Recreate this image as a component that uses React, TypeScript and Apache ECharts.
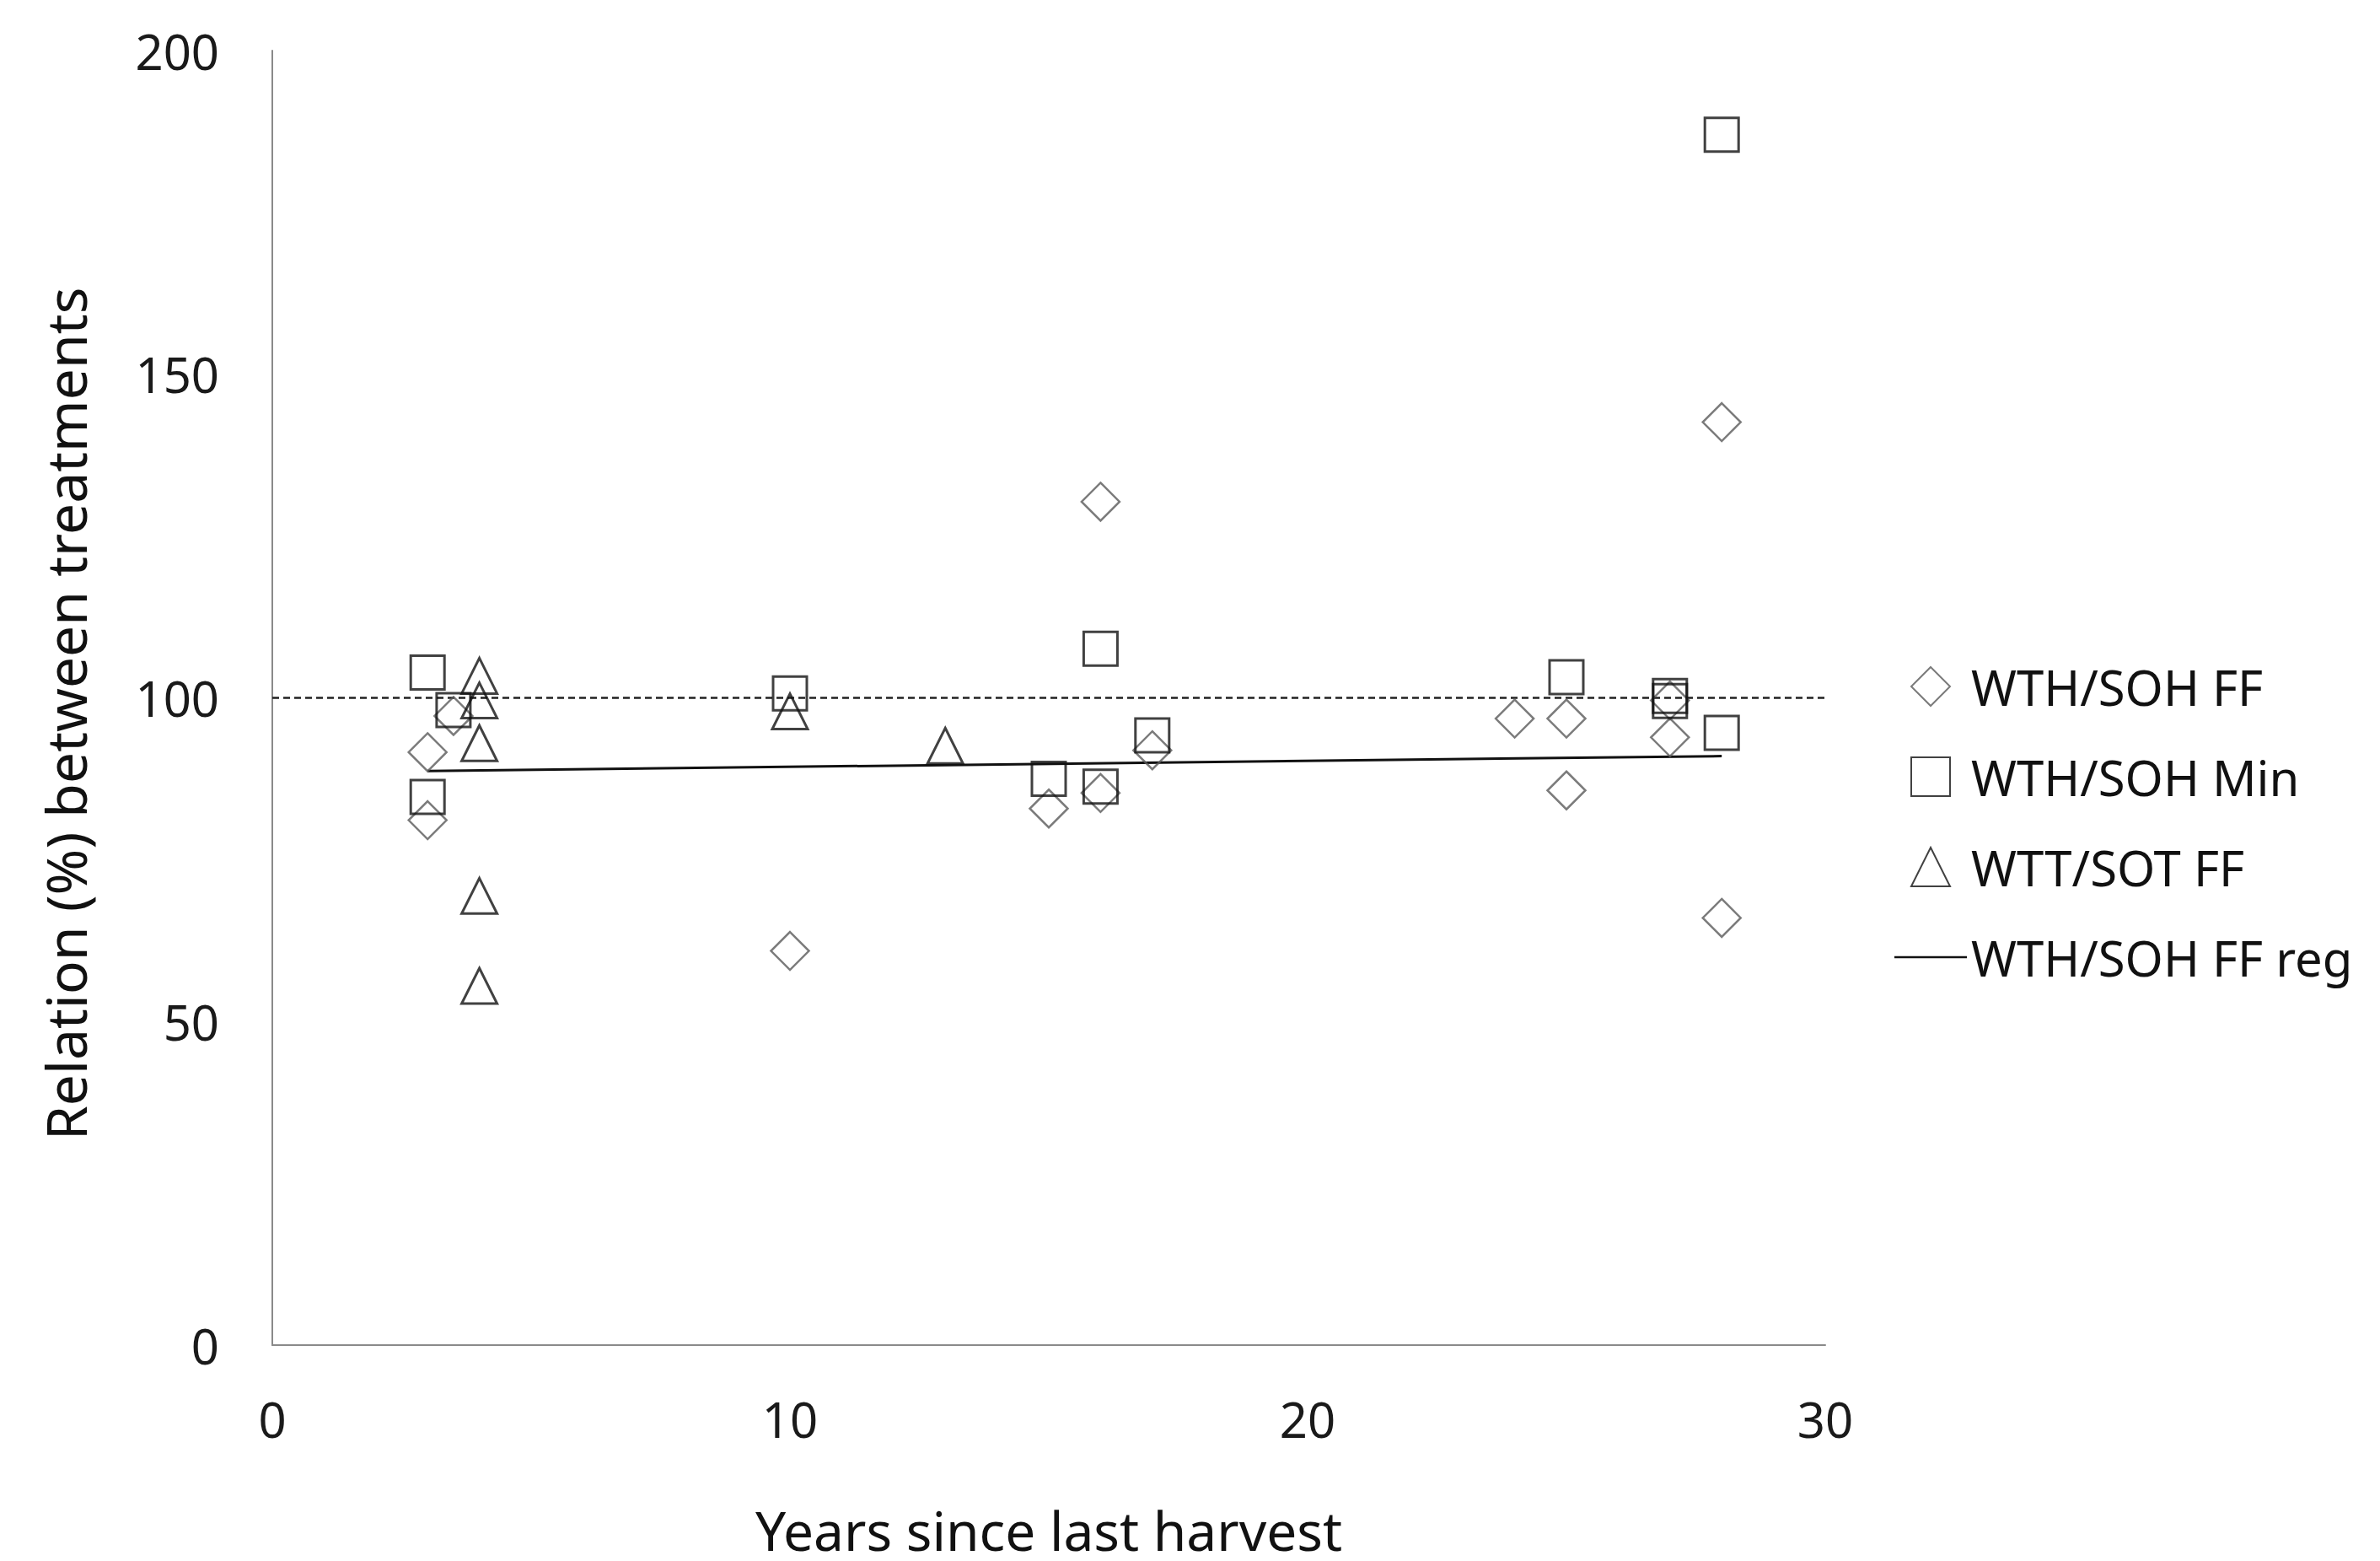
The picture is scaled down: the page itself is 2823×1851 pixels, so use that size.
import React, { useEffect, useRef } from "react";
import * as echarts from "echarts";

const seriesNames = ["WTH/SOH FF", "WTH/SOH Min", "WTT/SOT FF", "WTH/SOH FF reg"];

const wthSohFF: [number, number][] = [
  [3, 91.6], [3, 81.1], [3.5, 97.2], [10, 60.9], [15, 82.9], [16, 130.3], [16, 85.3],
  [17, 91.9], [24, 96.8], [25, 96.8], [25, 85.7], [27, 99.6], [27, 93.9], [28, 142.6], [28, 66],
];

const wthSohMin: [number, number][] = [
  [3, 103.9], [3, 84.7], [3.5, 98.1], [10, 100.7], [15, 87.5], [16, 107.6], [16, 86.3],
  [17, 94.2], [25, 103.2], [27, 100.3], [27, 99.5], [28, 187], [28, 94.6],
];

const wttSotFF: [number, number][] = [
  [4, 103.4], [4, 99.6], [4, 93.0], [4, 69.4], [4, 55.5], [10, 97.9], [13, 92.6],
];

const regression: [number, number][] = [[3, 88.7], [28, 91.0]];
const reference100: [number, number][] = [[0, 100], [30, 100]];

const xAxisRange = { min: 0, max: 30, interval: 10 };
const yAxisRange = { min: 0, max: 200, interval: 50 };

const xTitle = "Years since last harvest";
const yTitle = "Relation (%) between treatments";

const FONT = "Noto Sans";

const legendIcons = [
  "path://M16,0 L32,16 L16,32 L0,16 Z",
  "path://M0,0 L32,0 L32,32 L0,32 Z",
  "path://M16,0 L32,32 L0,32 Z",
  "path://M0,0 L86,0 L86,2.5 L0,2.5 Z",
];

export default function App() {
  const ref = useRef<HTMLDivElement>(null);
  useEffect(() => {
    if (!ref.current) return;
    const chart = echarts.init(ref.current, undefined, { renderer: "svg" });
    const axisLine = { show: true, lineStyle: { color: "#8a8a8a", width: 2 } };
    chart.setOption({
      animation: false,
      backgroundColor: "#ffffff",
      grid: { left: 323, right: 658, top: 60, bottom: 256, containLabel: false },
      xAxis: {
        type: "value",
        min: xAxisRange.min,
        max: xAxisRange.max,
        interval: xAxisRange.interval,
        axisLine,
        axisTick: { show: false },
        splitLine: { show: false },
        axisLabel: { fontFamily: FONT, fontSize: 58, color: "#1a1a1a", margin: 58 },
        name: xTitle,
        nameLocation: "middle",
        nameGap: 187,
        nameTextStyle: { fontFamily: FONT, fontSize: 64, color: "#111" },
      },
      yAxis: {
        type: "value",
        min: yAxisRange.min,
        max: yAxisRange.max,
        interval: yAxisRange.interval,
        axisLine,
        axisTick: { show: false },
        splitLine: { show: false },
        axisLabel: { fontFamily: FONT, fontSize: 58, color: "#1a1a1a", margin: 63 },
        name: yTitle,
        nameLocation: "middle",
        nameGap: 213,
        nameRotate: 90,
        nameTextStyle: { fontFamily: FONT, fontSize: 66, color: "#111", padding: [0, 38, 0, 0] },
      },
      legend: {
        orient: "vertical",
        left: 2247,
        top: 785,
        padding: 0,
        itemWidth: 86,
        itemHeight: 46,
        itemGap: 49,
        symbolKeepAspect: true,
        data: seriesNames.map((name, i) => ({ name, icon: legendIcons[i] })),
        textStyle: { fontFamily: FONT, fontSize: 58, color: "#111" },
      },
      series: [
        {
          name: seriesNames[0],
          type: "scatter",
          symbol: "diamond",
          symbolSize: 45,
          data: wthSohFF,
          itemStyle: { color: "rgba(255,255,255,0)", borderColor: "#5a5a5a", borderWidth: 2.5 },
          z: 3,
        },
        {
          name: seriesNames[1],
          type: "scatter",
          symbol: "rect",
          symbolSize: 40,
          data: wthSohMin,
          itemStyle: { color: "rgba(255,255,255,0)", borderColor: "#111", borderWidth: 3 },
          z: 3,
        },
        {
          name: seriesNames[2],
          type: "scatter",
          symbol: "triangle",
          symbolSize: 42,
          data: wttSotFF,
          itemStyle: { color: "rgba(255,255,255,0)", borderColor: "#111", borderWidth: 3 },
          z: 3,
        },
        {
          name: seriesNames[3],
          type: "line",
          symbol: "none",
          data: regression,
          lineStyle: { color: "#111", width: 3 },
          itemStyle: { color: "#111" },
          z: 2,
        },
        {
          name: "100% reference",
          type: "line",
          symbol: "none",
          data: reference100,
          lineStyle: { color: "#222", width: 2.5, type: [8, 5] },
          z: 2,
        },
      ],
    });
    return () => chart.dispose();
  }, []);
  return (
    <div
      ref={ref}
      style={{ position: "fixed", left: 0, top: 0, width: 2823, height: 1851, background: "#fff" }}
    />
  );
}
